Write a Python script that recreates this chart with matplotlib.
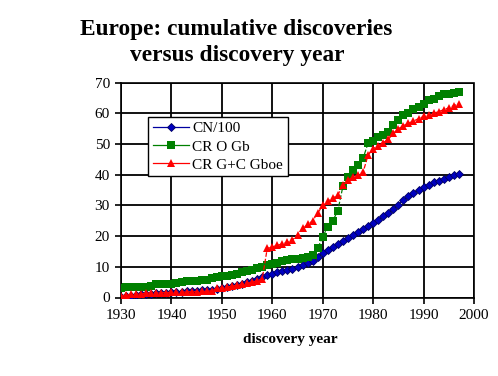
import matplotlib
matplotlib.use("Agg")
import matplotlib.pyplot as plt
import numpy as np

years = list(range(1930, 1998))

cn_100 = [0.2, 0.4, 0.6, 0.8, 1.0, 1.1, 1.3, 1.4, 1.5, 1.6,
          1.7, 1.8, 1.9, 2.0, 2.1, 2.2, 2.3, 2.4, 2.6, 2.8,
          3.0, 3.3, 3.6, 4.0, 4.4, 4.9, 5.4, 6.0, 6.6, 7.2,
          7.8, 8.2, 8.6, 9.0, 9.4, 9.9, 10.5, 11.2, 12.0, 13.2,
          14.4, 15.5, 16.5, 17.3, 18.3, 19.3, 20.3, 21.3, 22.3, 23.2,
          24.2, 25.3, 26.4, 27.5, 28.8, 30.3, 31.8, 33.0, 34.0, 35.0,
          36.0, 36.8, 37.5, 38.1, 38.7, 39.3, 39.9, 40.4]

cr_o_gb = [3.2, 3.3, 3.3, 3.4, 3.4, 3.5, 3.6, 4.3, 4.4, 4.5,
           4.5, 4.6, 5.2, 5.3, 5.4, 5.5, 5.6, 5.7, 6.5, 6.7,
           6.9, 7.1, 7.4, 7.8, 8.2, 8.6, 9.0, 9.5, 10.0, 10.6,
           11.0, 11.4, 11.8, 12.1, 12.4, 12.7, 13.0, 13.3, 13.7, 16.0,
           19.8, 23.0, 25.0, 28.3, 36.2, 39.3, 41.5, 43.2, 45.3, 50.4,
           51.0, 52.2, 53.0, 53.8, 56.2, 58.0, 59.4, 60.0, 61.3, 62.2,
           63.2, 64.3, 64.8, 65.6, 66.2, 66.4, 66.7, 67.0]

cr_gc_gboe = [0.5, 0.8, 1.0, 1.1, 1.2, 1.4, 1.5, 1.5, 1.6, 1.6,
              1.7, 1.7, 1.8, 1.8, 1.9, 1.9, 2.0, 2.0, 2.2, 3.0,
              3.2, 3.4, 3.7, 4.0, 4.3, 4.6, 5.0, 5.5, 6.0, 16.0,
              16.5, 17.0, 17.5, 18.0, 18.7, 20.5, 22.5, 23.8, 25.0, 27.5,
              30.0, 31.5, 32.3, 33.5, 36.5, 38.3, 39.2, 40.0, 40.8, 46.4,
              48.5, 49.5, 50.5, 51.5, 53.5, 55.0, 56.0, 56.8, 57.5, 58.3,
              59.0, 59.5, 60.0, 60.6, 61.2, 61.8, 62.5, 63.2]

x_ticks = [1930, 1940, 1950, 1960, 1970, 1980, 1990, 2000]
y_ticks = [0, 10, 20, 30, 40, 50, 60, 70]

serif = ["Liberation Serif", "DejaVu Serif"]
plt.rcParams["font.family"] = serif

fig = plt.figure(figsize=(4.98, 3.76), dpi=100)
ax = fig.add_axes([121/498, 1-297.5/376, (474-121)/498, (297.5-82.7)/376])

ax.set_xlim(1930, 2000)
ax.set_ylim(0, 70)
ax.set_xticks(x_ticks)
ax.set_yticks(y_ticks)
ax.grid(True, color="black", linewidth=1.3)
ax.set_axisbelow(True)

ax.plot(years, cn_100, color="#0000a0", marker="D", markersize=3.6,
        markerfacecolor="#0000c0", markeredgecolor="#000060", markeredgewidth=0.6,
        linewidth=0.9, label="CN/100", zorder=3)
ax.plot(years, cr_o_gb, color="#008000", marker="s", markersize=5.4,
        markeredgewidth=0, linewidth=0.9, linestyle="--", label="CR O Gb", zorder=3)
ax.plot(years, cr_gc_gboe, color="#ff0000", marker="^", markersize=6.2,
        markeredgewidth=0, linewidth=0.9, linestyle="--", label="CR G+C Gboe", zorder=4)

for side in ["top", "right"]:
    ax.spines[side].set_linestyle((0, (1, 1)))
    ax.spines[side].set_linewidth(1.2)
for side in ["left", "bottom"]:
    ax.spines[side].set_linewidth(1.2)

ax.tick_params(axis="both", direction="out", length=4, width=1.2,
               labelsize=11, colors="black", pad=4)

leg = ax.legend(loc="upper left", bbox_to_anchor=((148-121)/353, 1-(117-82.7)/214.8),
                frameon=True, fancybox=False, shadow=False, fontsize=11,
                borderpad=0.3, handlelength=2.4, handletextpad=0.2,
                labelspacing=0.3, borderaxespad=0)
leg.get_frame().set_edgecolor("black")
leg.get_frame().set_linewidth(1.0)
leg.get_frame().set_facecolor("white")
leg.get_frame().set_alpha(1)
for h in leg.get_lines():
    h.set_linestyle("-")

fig.text(236/498, 1-30/376, "Europe: cumulative discoveries",
         ha="center", va="center", fontsize=16.8, fontweight="bold")
fig.text(237/498, 1-55/376, "versus discovery year",
         ha="center", va="center", fontsize=16.8, fontweight="bold")
fig.text(290/498, 1-340/376, "discovery year",
         ha="center", va="center", fontsize=11, fontweight="bold")

fig.savefig("out.png", dpi=100, facecolor="white")
